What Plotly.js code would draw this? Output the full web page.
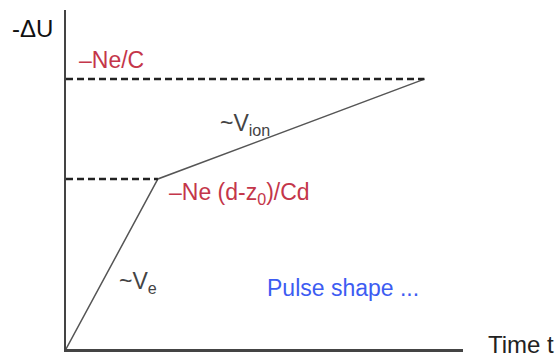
<!DOCTYPE html>
<html>
<head>
<meta charset="utf-8">
<script src="https://cdn.plot.ly/plotly-3.0.1.min.js"></script>
<style>
  html, body { margin: 0; padding: 0; background: #fff; }
  #chart { width: 556px; height: 357px; }
</style>
</head>
<body>
<div id="chart"></div>
<script>
// Pulse shape sketch: time points and signal levels (arbitrary units)
const pulseTime = [0, 1, 3.9];        // start, electrons collected, ions collected
const pulseLevel = [0, 0.63, 1];      // -dU at those times
const kneeTime = [0, 1];              // dashed guide to the knee
const kneeLevel = [0.63, 0.63];
const topTime = [0, 3.9];             // dashed guide to the full signal
const topLevel = [1, 1];

const redText = '#c4364a';
const font = 'Liberation Sans, Arial, sans-serif';

const pulse = {
    x: pulseTime,
    y: pulseLevel,
    type: 'scatter',
    mode: 'lines',
    line: { color: '#555', width: 1.5 },
    hoverinfo: 'skip'
};

const kneeGuide = {
    x: kneeTime,
    y: kneeLevel,
    type: 'scatter',
    mode: 'lines',
    line: { color: '#222', width: 2.5, dash: '7px,4px' },
    hoverinfo: 'skip'
};

const topGuide = {
    x: topTime,
    y: topLevel,
    type: 'scatter',
    mode: 'lines',
    line: { color: '#222', width: 2.5, dash: '7px,4px' },
    hoverinfo: 'skip'
};

function label(text, x, y, color, size, ref) {
    return {
        text: text, x: x, y: y,
        xref: ref ? 'paper' : 'x', yref: ref ? 'paper' : 'y',
        xanchor: 'left', yanchor: 'middle', showarrow: false,
        font: { family: font, size: size || 23, color: color }
    };
}

const layout = {
    width: 556,
    height: 357,
    margin: { l: 66, r: 93, t: 10, b: 8 },
    paper_bgcolor: '#fff',
    plot_bgcolor: '#fff',
    showlegend: false,
    xaxis: {
        range: [0, 4.32],
        showgrid: false, zeroline: false, showticklabels: false, ticks: '',
        showline: true, linecolor: '#444', linewidth: 2.5
    },
    yaxis: {
        range: [0, 1.256],
        showgrid: false, zeroline: false, showticklabels: false, ticks: '',
        showline: true, linecolor: '#444', linewidth: 2.5
    },
    annotations: [
        label('-ΔU', -0.141, 0.944, '#111', 24, true),
        label('–Ne/C', 0.12, 1.07, redText),
        label('~V<sub>ion</sub>', 1.65, 0.83, '#444'),
        label('–Ne (d-z<sub>0</sub>)/Cd', 1.1, 0.575, redText),
        label('~V<sub>e</sub>', 0.55, 0.245, '#444'),
        label('Pulse shape ...', 2.17, 0.226, '#3d5cf2'),
        label('Time t', 1.058, 0.012, '#222', 24, true)
    ]
};

Plotly.newPlot('chart', [pulse, kneeGuide, topGuide], layout, { displayModeBar: false, staticPlot: true });
</script>
</body>
</html>
